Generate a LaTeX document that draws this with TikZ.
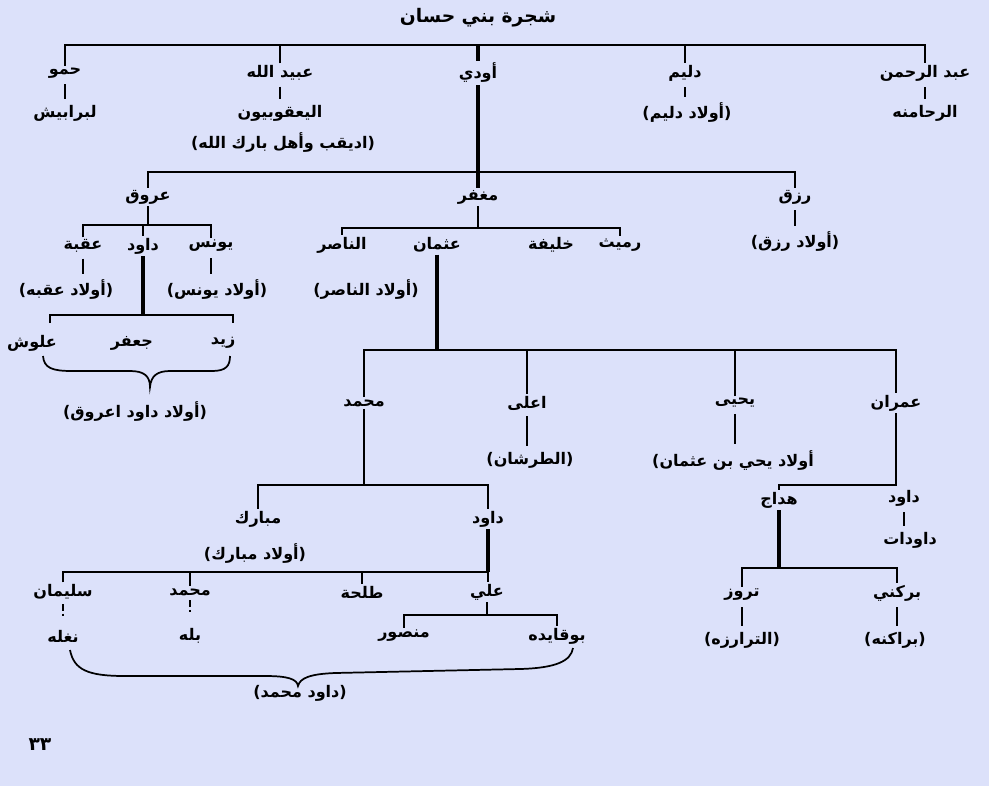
\documentclass[tikz,border=0pt]{standalone}
\usepackage{fontspec}
\TeXXeTstate=1
\newfontfamily\arabicfont[Script=Arabic]{DejaVu Sans}
\definecolor{bgc}{RGB}{220,225,250}
\newcommand{\RL}[1]{\beginR #1\endR}
\tikzset{
 lbl/.style={font=\arabicfont\bfseries\fontsize{12}{14}\selectfont, inner sep=1.5pt, text=black},
 ttl/.style={font=\arabicfont\bfseries\fontsize{14}{17}\selectfont, inner sep=1pt, text=black},
 pg/.style={font=\arabicfont\bfseries\fontsize{14}{16}\selectfont, inner sep=1pt, text=black},
 ln/.style={line width=1.2pt},
 thk/.style={line width=2.6pt},
 tck/.style={line width=1.2pt, shorten <=3pt, shorten >=3pt},
 dtk/.style={line width=1.6pt, dash pattern=on 5pt off 2pt on 1.6pt off 20pt, shorten <=2pt},
 brc/.style={line width=1.3pt}
}
\begin{document}
\begin{tikzpicture}[x=0.75pt,y=-0.75pt]
\fill[bgc] (0,0) rectangle (989,786);
\useasboundingbox (0,0) rectangle (989,786);
% row coordinates
\coordinate (y45) at (0,45);
\coordinate (y172) at (0,172);
\coordinate (y225) at (0,225);
\coordinate (y228) at (0,228);
\coordinate (y315) at (0,315);
\coordinate (y350) at (0,350);
\coordinate (y485) at (0,485);
\coordinate (y568) at (0,568);
\coordinate (y572) at (0,572);
\coordinate (y615) at (0,615);

\node[ttl] (title) at (478,18) {\RL{شجرة بني حسان}};
% level 1
\node[lbl] (hamu)  at (65,73)  {\RL{حمو}};
\node[lbl] (ubaid) at (280,73) {\RL{عبيد الله}};
\node[lbl] (awdi)  at (478,73) {\RL{أودي}};
\node[lbl] (dlim)  at (685,73) {\RL{دليم}};
\node[lbl] (abdr)  at (925,73) {\RL{عبد الرحمن}};
% level 2
\node[lbl] (brabish) at (65,113)  {\RL{لبرابيش}};
\node[lbl] (yaqub)   at (280,113) {\RL{اليعقوبيون}};
\node[lbl] (idig)    at (283,143) {\RL{(اديقب وأهل بارك الله)}};
\node[lbl] (odlim)   at (687,113) {\RL{(أولاد دليم)}};
\node[lbl] (rhamna)  at (925,113) {\RL{الرحامنه}};
% level 3
\node[lbl] (arug)    at (148,197) {\RL{عروق}};
\node[lbl] (maghfar) at (478,197) {\RL{مغفر}};
\node[lbl] (rizq)    at (795,197) {\RL{رزق}};
\node[lbl] (orizq)   at (795,242) {\RL{(أولاد رزق)}};
% sons of arug
\node[lbl] (uqba)   at (83,246)  {\RL{عقبة}};
\node[lbl] (dawud1) at (143,246) {\RL{داود}};
\node[lbl] (yunus)  at (211,246) {\RL{يونس}};
\node[lbl] (ouqba)  at (66,290)  {\RL{(أولاد عقبه)}};
\node[lbl] (oyunus) at (217,290) {\RL{(أولاد يونس)}};
% sons of maghfar
\node[lbl] (nasir)   at (342,245) {\RL{الناصر}};
\node[lbl] (uthman)  at (437,245) {\RL{عثمان}};
\node[lbl] (khalifa) at (551,245) {\RL{خليفة}};
\node[lbl] (rumaith) at (620,245) {\RL{رميث}};
\node[lbl] (onasir)  at (366,290) {\RL{(أولاد الناصر)}};
% sons of dawud (arug)
\node[lbl] (alush)  at (32,343)  {\RL{علوش}};
\node[lbl] (jafar)  at (132,343) {\RL{جعفر}};
\node[lbl] (zaid)   at (223,343) {\RL{زيد}};
\node[lbl] (odarug) at (135,412) {\RL{(أولاد داود اعروق)}};
% sons of uthman
\node[lbl] (muh1)   at (364,403) {\RL{محمد}};
\node[lbl] (a3la)   at (527,403) {\RL{اعلى}};
\node[lbl] (yahya)  at (735,403) {\RL{يحيى}};
\node[lbl] (imran)  at (896,403) {\RL{عمران}};
\node[lbl] (tarshan) at (530,460) {\RL{(الطرشان)}};
\node[lbl] (oyahya)  at (733,460) {\RL{أولاد يحي بن عثمان)}};
% sons of muhammad
\node[lbl] (mubarak) at (258,519) {\RL{مبارك}};
\node[lbl] (dawud2)  at (488,519) {\RL{داود}};
\node[lbl] (omubarak) at (255,553) {\RL{(أولاد مبارك)}};
\node[lbl] (sulaiman) at (63,592) {\RL{سليمان}};
\node[lbl] (muh2)     at (190,592) {\RL{محمد}};
\node[lbl] (talha)    at (362,592) {\RL{طلحة}};
\node[lbl] (ali)      at (487,592) {\RL{علي}};
\node[lbl] (nghla)    at (63,636)  {\RL{نغله}};
\node[lbl] (bilah)    at (190,636) {\RL{بله}};
\node[lbl] (mansur)   at (404,636) {\RL{منصور}};
\node[lbl] (buqaida)  at (557,636) {\RL{بوقايده}};
\node[lbl] (dmuh)     at (300,693) {\RL{(داود محمد)}};
% sons of imran
\node[lbl] (hadaj)   at (779,500) {\RL{هداج}};
\node[lbl] (dawud3)  at (904,498) {\RL{داود}};
\node[lbl] (dawudat) at (910,540) {\RL{داودات}};
\node[lbl] (taruz)   at (742,595) {\RL{تروز}};
\node[lbl] (barkani) at (897,593) {\RL{بركني}};
\node[lbl] (trarza)  at (742,640) {\RL{(الترارزه)}};
\node[lbl] (brakna)  at (895,640) {\RL{(براكنه)}};
% page number
\node[pg] (page) at (40,745) {\RL{٣٣}};

% ---- connectors ----
\draw[ln] (hamu.north) -- (hamu.north |- y45) -- (abdr.north |- y45) -- (abdr.north);
\draw[ln] (ubaid.north) -- (ubaid.north |- y45);
\draw[ln] (dlim.north) -- (dlim.north |- y45);
\draw[thk] (awdi.north) -- (awdi.north |- y45);
\draw[tck] (hamu.south) -- (hamu.south |- brabish.north);
\draw[tck] (ubaid.south) -- (ubaid.south |- yaqub.north);
\draw[tck] (dlim.south) -- (dlim.south |- odlim.north);
\draw[tck] (abdr.south) -- (abdr.south |- rhamna.north);
\draw[thk] (awdi.south) -- (maghfar.north);
\draw[ln] (arug.north) -- (arug.north |- y172) -- (rizq.north |- y172) -- (rizq.north);
\draw[tck] (rizq.south) -- (orizq.north);
% arug
\draw[ln] (arug.south) -- (arug.south |- y225);
\draw[ln] (uqba.north) -- (uqba.north |- y225) -- (yunus.north |- y225) -- (yunus.north);
\draw[ln] (dawud1.north) -- (dawud1.north |- y225);
\draw[tck] (uqba.south) -- (uqba.south |- ouqba.north);
\draw[tck] (yunus.south) -- (yunus.south |- oyunus.north);
\draw[thk] (dawud1.south) -- (dawud1.south |- y315);
\coordinate (dl) at (50,323);
\coordinate (dr) at (233,323);
\draw[ln] (dl) -- (dl |- y315) -- (dr |- y315) -- (dr);
\draw[brc] (43,356) .. controls (44,368) and (52,371) .. (72,371) -- (130,371) .. controls (144,371) and (150,376) .. (150,387) .. controls (151,376) and (157,371) .. (170,371) -- (212,371) .. controls (226,371) and (230,366) .. (230,356);
% maghfar
\draw[ln] (maghfar.south) -- (maghfar.south |- y228);
\draw[ln] (nasir.north) -- (nasir.north |- y228) -- (rumaith.north |- y228) -- (rumaith.north);
\draw[thk] (uthman.south) -- (uthman.south |- y350);
\draw[ln] (muh1.north) -- (muh1.north |- y350) -- (imran.north |- y350) -- (imran.north);
\draw[ln] (a3la.north) -- (a3la.north |- y350);
\draw[ln] (yahya.north) -- (yahya.north |- y350);
\draw[tck] (a3la.south) -- (a3la.south |- tarshan.north);
\draw[tck] (yahya.south) -- (yahya.south |- oyahya.north);
% muhammad
\draw[ln] (muh1.south) -- (muh1.south |- y485);
\draw[ln] (mubarak.north) -- (mubarak.north |- y485) -- (dawud2.north |- y485) -- (dawud2.north);
\draw[thk] (dawud2.south) -- (dawud2.south |- y572);
\draw[ln] (sulaiman.north) -- (sulaiman.north |- y572) -- (dawud2.south |- y572) -- (dawud2.south |- ali.north);
\draw[ln] (muh2.north) -- (muh2.north |- y572);
\draw[ln] (talha.north) -- (talha.north |- y572);
\draw[ln] (ali.south) -- (ali.south |- y615);
\draw[ln] (mansur.north) -- (mansur.north |- y615) -- (buqaida.north |- y615) -- (buqaida.north);
\draw[dtk] (sulaiman.south) -- (nghla.north);
\draw[dtk] (muh2.south) -- (bilah.north);
\draw[brc] (70,650) .. controls (74,670) and (88,676) .. (125,676) -- (265,676) .. controls (288,676) and (297,679) .. (298,686) .. controls (300,678) and (310,674) .. (335,673) -- (520,669) .. controls (556,668) and (571,661) .. (573,648);
% imran
\draw[ln] (imran.south) -- (imran.south |- y485) -- (hadaj.north |- y485) -- (hadaj.north);
\draw[tck] (dawud3.south) -- (dawud3.south |- dawudat.north);
\draw[thk] (hadaj.south) -- (hadaj.south |- y568);
\draw[ln] (taruz.north) -- (taruz.north |- y568) -- (barkani.north |- y568) -- (barkani.north);
\draw[tck] (taruz.south) -- (taruz.south |- trarza.north);
\draw[tck] (barkani.south) -- (barkani.south |- brakna.north);
\end{tikzpicture}
\end{document}
